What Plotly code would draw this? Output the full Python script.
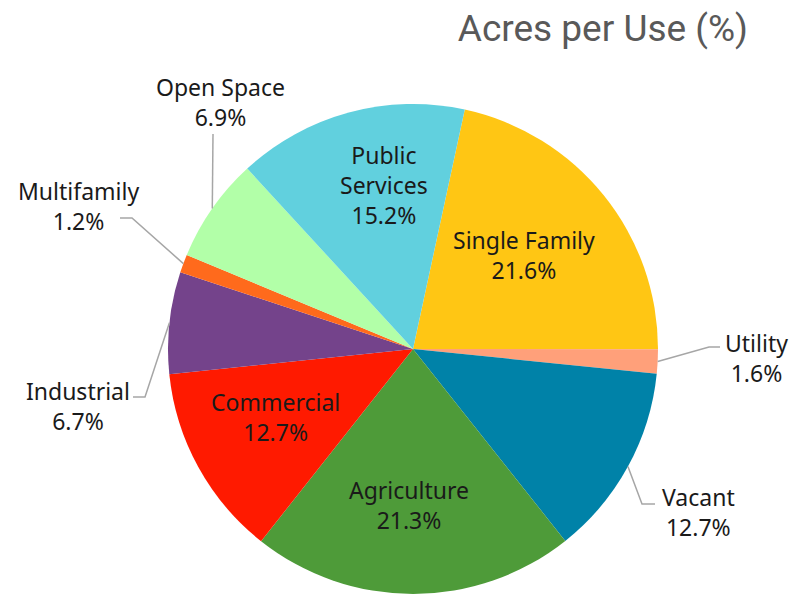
"""Pie chart of acres per land use"""
import math
import plotly.graph_objects as go

W, H = 806, 594

# data
labels = ["Single Family", "Utility", "Vacant", "Agriculture", "Commercial",
          "Industrial", "Multifamily", "Open Space", "Public Services"]
values = [21.6, 1.6, 12.7, 21.3, 12.7, 6.7, 1.2, 6.9, 15.2]
display_names = ["Single Family", "Utility", "Vacant", "Agriculture", "Commercial",
                 "Industrial", "Multifamily", "Open Space", "Public<br>Services"]
colors = ["#FFC614", "#FFA07A", "#0082A8", "#4E9B39", "#FF1A00",
          "#74438B", "#FF6A1C", "#B2FFA8", "#61D0DE"]

# layout (pixels)
CX, CY, R = 413, 349, 245
ROTATION = 12.2
FONT = "Noto Sans"

# label centres in pixels, and leader line points (text side, elbow) for outside labels
label_pos = {
    "Single Family": (524, 255), "Public Services": (384, 185),
    "Commercial": (275, 417), "Agriculture": (409, 505),
    "Open Space": (220, 102), "Multifamily": (78, 206), "Industrial": (78, 406),
    "Utility": (756, 358), "Vacant": (698, 512),
}
leaders = {
    "Open Space": [(213, 134)],
    "Multifamily": [(120, 218), (132, 218)],
    "Industrial": [(133, 397), (145, 397)],
    "Utility": [(720, 347), (709, 347)],
    "Vacant": [(655, 504), (642, 504)],
}


def px_x(x):
    return x / W


def px_y(y):
    return 1 - y / H


fig = go.Figure(go.Pie(
    labels=labels,
    values=values,
    sort=False,
    direction="clockwise",
    rotation=ROTATION,
    marker=dict(colors=colors, line=dict(width=0)),
    textinfo="none",
    hoverinfo="label+percent",
    domain=dict(x=[px_x(CX - R), px_x(CX + R)], y=[px_y(CY + R), px_y(CY - R)]),
    showlegend=False,
))

total = sum(values)
annotations = []
shapes = []
cum = 0.0
for lab, name, v in zip(labels, display_names, values):
    mid = ROTATION + (cum + v / 2) / total * 360
    cum += v
    x, y = label_pos[lab]
    annotations.append(dict(
        x=px_x(x), y=px_y(y), xref="paper", yref="paper",
        text=f"{name}<br>{v}%", showarrow=False,
        xanchor="center", yanchor="middle", align="center",
        font=dict(family=FONT, size=23, color="#1a1a1a"),
    ))
    if lab in leaders:
        a = math.radians(mid)
        ex, ey = CX + R * math.sin(a), CY - R * math.cos(a)
        pts = leaders[lab] + [(ex, ey)]
        path = "M " + " L ".join(f"{px_x(px)},{px_y(py)}" for px, py in pts)
        shapes.append(dict(type="path", path=path, xref="paper", yref="paper",
                           line=dict(color="#A6A6A6", width=1.5)))

fig.update_layout(
    width=W, height=H,
    margin=dict(l=0, r=0, t=0, b=0),
    paper_bgcolor="white",
    plot_bgcolor="white",
    title=dict(text="Acres per Use (%)", x=px_x(748), xanchor="right",
               y=px_y(28), yanchor="middle",
               font=dict(family="Roboto", size=37, color="#595959")),
    annotations=annotations,
    shapes=shapes,
)

fig.write_html("out.html", config={"displayModeBar": False},
               post_script="document.body.style.margin='0px';")
